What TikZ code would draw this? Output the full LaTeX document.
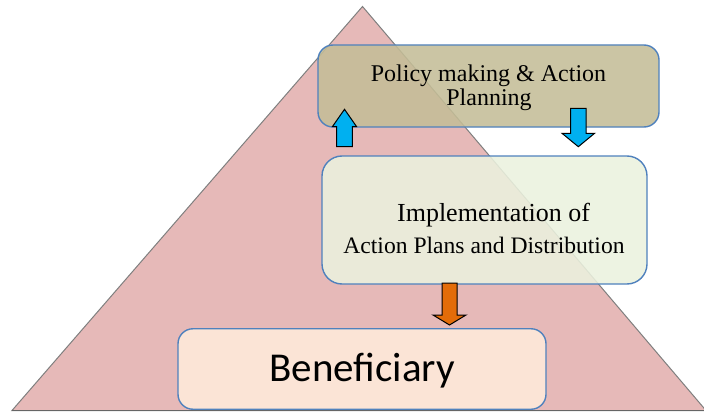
\documentclass[tikz,border=0pt]{standalone}
\usepackage{fontspec}
\setmainfont{Liberation Serif}
\newfontfamily\calfont{Carlito}
\definecolor{tripink}{HTML}{E6B9B8}
\definecolor{triedge}{HTML}{7F7F7F}
\definecolor{boxblue}{HTML}{4F81BD}
\definecolor{tanfill}{HTML}{C4BD97}
\definecolor{greenfill}{HTML}{EBF1DE}
\definecolor{peachfill}{HTML}{FBE4D6}
\definecolor{arrowblue}{HTML}{00B0F0}
\definecolor{arroworange}{HTML}{E36C09}
\tikzset{
  levelbox/.style={draw=boxblue, line width=1.4pt, rounded corners=#1, inner sep=0pt, fill opacity=0.88},
  blockarr/.style={draw=black, line width=1pt, line join=miter, fill=#1},
  serif24/.style={font=\fontsize{24}{24}\selectfont, anchor=base, inner sep=0pt},
}
\newcommand\myblockarrow[7]{% style colour, cx, ytail, yheadbase, ytip, shafthalf, headhalf
  \draw[blockarr=#1] (#2-#6,#3) -- (#2-#6,#4) -- (#2-#7,#4) -- (#2,#5) -- (#2+#7,#4) -- (#2+#6,#4) -- (#2+#6,#3) -- cycle;}
\begin{document}
\begin{tikzpicture}[x=1pt,y=-1pt]
\useasboundingbox (0,0) rectangle (704,412);
\clip (0,0) rectangle (704,412);
% pyramid
\coordinate (apex) at (362.5,6.5);
\coordinate (bl) at (12,410.5);
\coordinate (br) at (706,410.5);
\filldraw[fill=tripink, draw=triedge, line width=1pt] (bl) -- (apex) -- (br) -- cycle;
\draw[draw=triedge!80!black, line width=1.6pt] (bl) -- (br);
% boxes
\node[levelbox=15pt, fill=tanfill, minimum width=341pt, minimum height=82pt] (policy) at (488.5,86) {};
\node[levelbox=20pt, fill=greenfill, minimum width=325pt, minimum height=128pt] (impl) at (484.5,220) {};
\node[levelbox=15pt, fill=peachfill, fill opacity=1, minimum width=368pt, minimum height=80.5pt] (benef) at (362,369) {};
% texts
\node[serif24] (p1) at (488.5,81.7) {Policy making \& Action};
\node[serif24] (p2) at (489,106) {Planning};
\node[serif24, font=\fontsize{26}{26}\selectfont] (i1) at (493.5,221.5) {Implementation of};
\node[serif24, font=\fontsize{23.6}{24}\selectfont] (i2) at (484,253) {Action Plans and Distribution};
\node[anchor=base, inner sep=0pt, font=\calfont\fontsize{41}{41}\selectfont] (b1) at (362,381) {Beneficiary};
% block arrows
\myblockarrow{arrowblue}{344.5}{146.5}{126.5}{109.3}{7.8}{12}
\myblockarrow{arrowblue}{578.3}{108.3}{133.3}{146.7}{7.7}{16.3}
\myblockarrow{arroworange}{449.5}{283}{315}{325}{7.5}{16.5}
\end{tikzpicture}
\end{document}
